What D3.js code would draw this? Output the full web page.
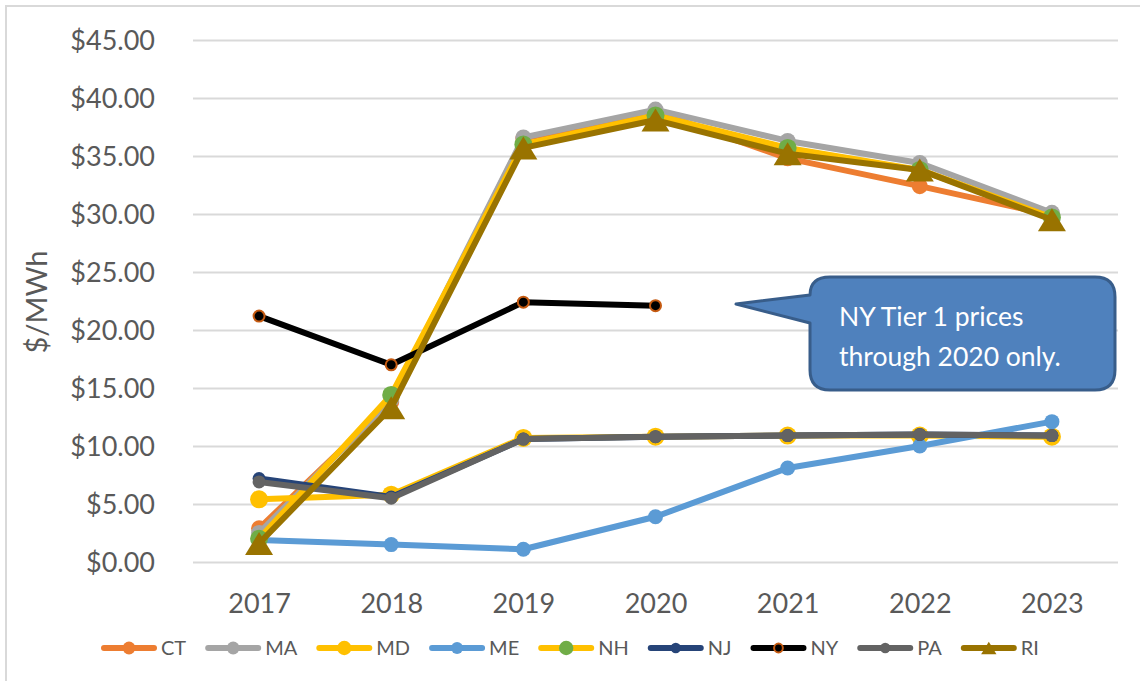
<!DOCTYPE html>
<html>
<head>
<meta charset="utf-8">
<title>REC prices</title>
<script src="https://d3js.org/d3.v7.min.js"></script>
<style>
body { margin:0; background:#fff; }
text { font-family: Lato, "Open Sans", sans-serif; }
</style>
</head>
<body>
<script>
// data ($/MWh)
var years = ["2017", "2018", "2019", "2020", "2021", "2022", "2023"];
var yTicks = [0, 5, 10, 15, 20, 25, 30, 35, 40, 45];
var seriesNames = ["CT", "MA", "MD", "ME", "NH", "NJ", "NY", "PA", "RI"];

var CT = [2.9, 13.8, 36.5, 38.8, 34.8, 32.4, 29.9];
var MA = [2.5, 14.0, 36.6, 39.0, 36.3, 34.4, 30.1];
var MD = [5.4, 5.8, 10.7, 10.8, 10.9, 10.9, 10.8];
var ME = [1.9, 1.5, 1.1, 3.9, 8.1, 10.0, 12.1];
var NH = [2.0, 14.4, 36.0, 38.5, 35.7, 33.8, 29.7];
var NJ = [7.2, 5.6, 10.6, 10.8, 10.9, 11.0, 10.9];
var NY = [21.2, 17.0, 22.4, 22.1, null, null, null];
var PA = [6.9, 5.5, 10.6, 10.8, 10.9, 11.0, 10.9];
var RI = [1.6, 13.3, 35.7, 38.1, 35.2, 33.8, 29.5];

var values = {CT:CT, MA:MA, MD:MD, ME:ME, NH:NH, NJ:NJ, NY:NY, PA:PA, RI:RI};

// look of each series
var style = {
  CT: {line:"#ED7D31", fill:"#ED7D31", r:8},
  MA: {line:"#A5A5A5", fill:"#A5A5A5", r:8},
  MD: {line:"#FFC000", fill:"#FFC000", r:9},
  ME: {line:"#5B9BD5", fill:"#5B9BD5", r:7.5},
  NH: {line:"#FFC000", fill:"#70AD47", r:9},
  NJ: {line:"#264478", fill:"#264478", r:6.5},
  NY: {line:"#000000", fill:"#000000", r:5.5, stroke:"#C55A11"},
  PA: {line:"#636363", fill:"#636363", r:6.5},
  RI: {line:"#997300", fill:"#997300", tri:true}
};

var width = 1140, height = 681;
var svg = d3.select("body").append("svg").attr("width", width).attr("height", height);

// chart frame
svg.append("rect").attr("x", 6).attr("y", 6).attr("width", width + 10).attr("height", height + 10)
  .attr("fill", "none").attr("stroke", "#D9D9D9").attr("stroke-width", 2);

var x = d3.scalePoint().domain(years).range([193, 1118]).padding(0.5);
var y = d3.scaleLinear().domain([0, 45]).range([562, 40]);

// gridlines + y labels
var yAxis = d3.axisLeft(y).tickValues(yTicks).tickSize(-(1118 - 193))
  .tickFormat(function(d){ return "$" + d3.format(".2f")(d); });
var gy = svg.append("g").attr("transform", "translate(193,0)").call(yAxis);
gy.select(".domain").remove();
gy.selectAll("line").attr("stroke", "#D9D9D9").attr("stroke-width", 2);
gy.selectAll("text").attr("x", -38).attr("dy", "0.35em")
  .attr("fill", "#595959").style("font-size", "27px");

// x labels
var xAxis = d3.axisBottom(x).tickSize(0);
var gx = svg.append("g").attr("transform", "translate(0,562)").call(xAxis);
gx.select(".domain").remove();
gx.selectAll("text").attr("y", 51).attr("dy", 0)
  .attr("fill", "#595959").style("font-size", "27px");

// y title
svg.append("text").attr("transform", "translate(47,302) rotate(-90)")
  .attr("text-anchor", "middle").attr("fill", "#595959").style("font-size", "29px")
  .text("$/MWh");

var line = d3.line()
  .defined(function(d){ return d != null; })
  .x(function(d, i){ return x(years[i]); })
  .y(function(d){ return y(d); });

function triPath(cx, cy, w, h) {
  return "M" + cx + "," + (cy - h / 2) + "L" + (cx + w / 2) + "," + (cy + h / 2) +
    "L" + (cx - w / 2) + "," + (cy + h / 2) + "Z";
}

function drawMarker(g, name, cx, cy, scale) {
  var s = style[name];
  if (s.tri) {
    g.append("path").attr("d", triPath(cx, cy, 28 * scale, 23 * scale)).attr("fill", s.fill);
  } else {
    g.append("circle").attr("cx", cx).attr("cy", cy).attr("r", s.r * scale)
      .attr("fill", s.fill)
      .attr("stroke", s.stroke || "none").attr("stroke-width", s.stroke ? 2 : 0);
  }
}

seriesNames.forEach(function(name) {
  var g = svg.append("g");
  var s = style[name];
  g.append("path").datum(values[name]).attr("d", line)
    .attr("fill", "none").attr("stroke", s.line).attr("stroke-width", 6)
    .attr("stroke-linejoin", "round").attr("stroke-linecap", "round");
  values[name].forEach(function(v, i) {
    if (v == null) return;
    drawMarker(g, name, x(years[i]), y(v), 1);
  });
});

// legend
var lx = 101, ly = 648;
seriesNames.forEach(function(name) {
  var g = svg.append("g");
  g.append("line").attr("x1", lx + 3).attr("x2", lx + 53).attr("y1", ly).attr("y2", ly)
    .attr("stroke", style[name].line).attr("stroke-width", 6).attr("stroke-linecap", "round");
  drawMarker(g, name, lx + 28, ly, name === "RI" ? 0.55 : 0.8);
  var t = g.append("text").attr("x", lx + 60).attr("y", ly).attr("dy", "0.35em")
    .attr("fill", "#595959").style("font-size", "20px").text(name);
  lx += 60 + t.node().getComputedTextLength() + 19;
});

// callout
var callout = "M830,277 H1095 Q1115,277 1115,297 V370 Q1115,390 1095,390 H830 Q810,390 810,370" +
  " V323 L736,304 L810,295 Q810,277 830,277 Z";
svg.append("path").attr("d", callout).attr("fill", "#4F81BD")
  .attr("stroke", "#385D8A").attr("stroke-width", 3).attr("stroke-linejoin", "round");
svg.append("text").attr("x", 839).attr("y", 326).attr("fill", "#fff").style("font-size", "26.5px")
  .text("NY Tier 1 prices");
svg.append("text").attr("x", 839).attr("y", 366).attr("fill", "#fff").style("font-size", "26.5px")
  .text("through 2020 only.");
</script>
</body>
</html>
